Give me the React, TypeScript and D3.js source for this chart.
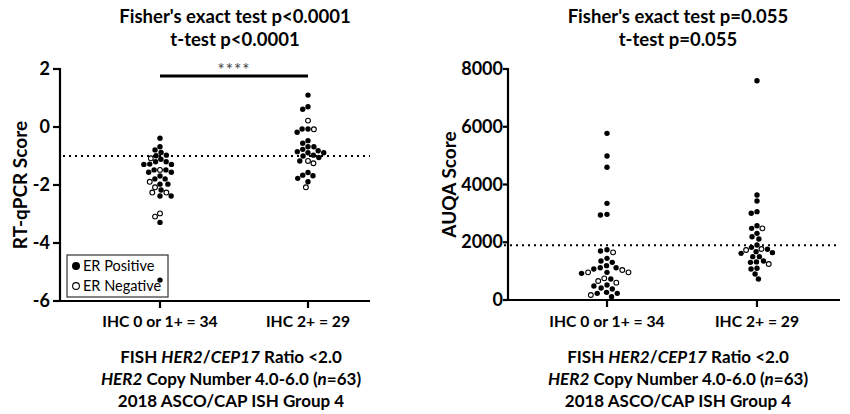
import React from "react";
import * as d3 from "d3";

// ---------- data ----------
const categories = ["IHC 0 or 1+ = 34", "IHC 2+ = 29"];

// RT-qPCR score, IHC 0 or 1+ (1 = ER positive, 0 = ER negative)
const rtLowValues = [-0.39, -0.68, -0.79, -0.88, -0.97, -0.99, -1.08, -1.2, -1.2, -1.11, -1.29, -1.28, -1.29, -1.48, -1.56, -1.56, -1.48, -1.48, -1.69, -1.97, -1.97, -1.79, -1.79, -1.89, -2.08, -2.17, -2.26, -2.26, -2.38, -2.38, -2.98, -3.09, -3.29, -5.28];
const rtLowER = [1, 1, 1, 1, 1, 1, 0, 1, 1, 1, 1, 1, 1, 0, 1, 1, 1, 1, 1, 1, 1, 1, 1, 0, 0, 1, 0, 0, 1, 1, 0, 0, 1, 1];
// RT-qPCR score, IHC 2+
const rtHighValues = [1.1, 0.7, 0.61, 0.22, -0.07, -0.07, -0.08, -0.18, -0.47, -0.56, -0.68, -0.68, -0.77, -0.85, -0.89, -0.82, -0.89, -0.97, -1.0, -1.05, -1.17, -1.17, -1.25, -1.66, -1.68, -1.57, -1.77, -1.89, -2.08];
const rtHighER = [1, 1, 1, 0, 1, 1, 0, 1, 1, 1, 1, 1, 1, 1, 1, 1, 1, 1, 1, 1, 0, 1, 0, 1, 1, 1, 1, 1, 0];

// AUQA score, IHC 0 or 1+
const auLowValues = [5772, 4987, 4595, 3348, 2967, 2944, 1697, 1740, 1651, 1443, 1350, 1304, 1119, 1189, 1119, 958, 1073, 923, 1039, 958, 958, 750, 600, 658, 727, 519, 485, 415, 381, 265, 231, 231, 173, 115];
const auLowER = [1, 1, 1, 1, 1, 1, 1, 1, 0, 1, 1, 1, 1, 1, 1, 1, 1, 1, 0, 0, 0, 0, 0, 0, 1, 1, 1, 1, 1, 1, 1, 1, 0, 1];
// AUQA score, IHC 2+
const auHighValues = [7595, 3636, 3428, 3002, 3060, 2574, 2482, 2482, 2309, 2193, 2112, 1905, 1824, 1766, 1731, 1639, 1755, 1616, 1674, 1501, 1501, 1350, 1304, 1320, 1247, 1097, 1073, 900, 727];
const auHighER = [1, 1, 1, 1, 1, 1, 1, 0, 1, 1, 1, 1, 1, 0, 0, 1, 1, 1, 1, 1, 1, 1, 1, 1, 0, 1, 1, 1, 1];

const rtTicks = [-6, -4, -2, 0, 2];
const auTicks = [0, 2000, 4000, 6000, 8000];
const rtCutoff = -1;
const auCutoff = 1900;

const leftTitles = ["Fisher's exact test p<0.0001", "t-test p<0.0001"];
const rightTitles = ["Fisher's exact test p=0.055", "t-test p=0.055"];
const legendLabels = ["ER Positive", "ER Negative"];

// ---------- helpers ----------
const FONT = "Lato, 'Open Sans', sans-serif";
const R = 2.7;

type Pt = { x: number; y: number; er: number };

function swarm(values: number[], er: number[], cx: number, y: (v: number) => number, coll: number): Pt[] {
  const items = values.map((v, i) => ({ py: y(v), er: er[i] }));
  items.sort((a, b) => a.py - b.py);
  const placed: Pt[] = [];
  for (const it of items) {
    const intervals: [number, number][] = [];
    for (const p of placed) {
      const dy = Math.abs(p.y - it.py);
      if (dy < coll) {
        const dx = Math.sqrt(coll * coll - dy * dy);
        intervals.push([p.x - cx - dx, p.x - cx + dx]);
      }
    }
    const cands = [0];
    intervals.forEach(([a, b]) => cands.push(a, b));
    cands.sort((a, b) => Math.abs(a) - Math.abs(b));
    let best = 0;
    for (const c of cands) {
      if (intervals.every(([a, b]) => c <= a + 1e-6 || c >= b - 1e-6)) {
        best = c;
        break;
      }
    }
    placed.push({ x: cx + best, y: it.py, er: it.er });
  }
  return placed;
}

function Dots({ pts }: { pts: Pt[] }) {
  return (
    <g>
      {pts.map((p, i) =>
        p.er ? (
          <circle key={i} cx={p.x} cy={p.y} r={R} fill="#000" />
        ) : (
          <circle key={i} cx={p.x} cy={p.y} r={R - 0.3} fill="#fff" stroke="#000" strokeWidth={1.1} />
        )
      )}
    </g>
  );
}

function BottomText({ cx }: { cx: number }) {
  const st = { fontFamily: FONT, fontSize: 17, fontWeight: 700 } as const;
  return (
    <g textAnchor="middle" style={st}>
      <text x={cx} y={363}>
        FISH <tspan fontStyle="italic">HER2</tspan>/<tspan fontStyle="italic">CEP17</tspan> Ratio &lt;2.0
      </text>
      <text x={cx} y={385}>
        <tspan fontStyle="italic">HER2</tspan> Copy Number 4.0-6.0 (<tspan fontStyle="italic">n</tspan>=63)
      </text>
      <text x={cx} y={407}>2018 ASCO/CAP ISH Group 4</text>
    </g>
  );
}

export default function App() {
  // left panel
  const yL = d3.scaleLinear().domain([-6, 2]).range([301, 69]);
  const xL = d3.scalePoint<string>().domain(categories).range([160, 308]);
  // right panel
  const yR = d3.scaleLinear().domain([0, 8000]).range([300, 69]);
  const xR = d3.scalePoint<string>().domain(categories).range([607, 757]);

  const lLow = swarm(rtLowValues, rtLowER, xL(categories[0])!, yL, 5.9);
  const lHigh = swarm(rtHighValues, rtHighER, xL(categories[1])!, yL, 5.9);
  const rLow = swarm(auLowValues, auLowER, xR(categories[0])!, yR, 6.6);
  const rHigh = swarm(auHighValues, auHighER, xR(categories[1])!, yR, 6.0);

  const tickFont = { fontFamily: FONT, fontSize: 18, fontWeight: 700 } as const;
  const axisLabelFont = { fontFamily: FONT, fontSize: 19, fontWeight: 700 } as const;
  const catFont = { fontFamily: FONT, fontSize: 15.7, fontWeight: 700 } as const;
  const titleFont = { fontFamily: FONT, fontSize: 18.5, fontWeight: 700 } as const;

  const lAxisX = 60, lEnd = 370, lBase = 301;
  const rAxisX = 508, rEnd = 840, rBase = 300;

  return (
    <svg width={850} height={414} style={{ position: "absolute", left: 0, top: 0, background: "#fff" }}>
      <rect width={850} height={414} fill="#fff" />
      {/* ---------- LEFT ---------- */}
      <g textAnchor="middle" style={titleFont}>
        <text x={235} y={23}>{leftTitles[0]}</text>
        <text x={235} y={46}>{leftTitles[1]}</text>
      </g>
      <line x1={lAxisX} x2={lAxisX} y1={yL(2) - 1} y2={lBase + 1} stroke="#000" strokeWidth={2.2} />
      <line x1={lAxisX - 7} x2={lEnd} y1={lBase} y2={lBase} stroke="#000" strokeWidth={2.2} />
      {rtTicks.map((t) => (
        <g key={t}>
          <line x1={lAxisX - 7} x2={lAxisX} y1={yL(t)} y2={yL(t)} stroke="#000" strokeWidth={2.2} />
          <text x={lAxisX - 10} y={yL(t) + 6} textAnchor="end" style={tickFont}>{t}</text>
        </g>
      ))}
      {categories.map((c) => (
        <g key={c}>
          <line x1={xL(c)} x2={xL(c)} y1={lBase} y2={lBase + 7} stroke="#000" strokeWidth={2.2} />
          <text x={xL(c)} y={lBase + 26} textAnchor="middle" style={catFont}>{c}</text>
        </g>
      ))}
      <text transform={`translate(27,${yL(-2)}) rotate(-90)`} textAnchor="middle" style={axisLabelFont}>RT-qPCR Score</text>
      <line x1={lAxisX + 3} x2={lEnd} y1={yL(rtCutoff)} y2={yL(rtCutoff)} stroke="#000" strokeWidth={2} strokeDasharray="2 4" />
      {/* significance */}
      <line x1={xL(categories[0])} x2={xL(categories[1])} y1={76} y2={76} stroke="#000" strokeWidth={3.2} />
      <text x={(xL(categories[0])! + xL(categories[1])!) / 2} y={76} textAnchor="middle" style={{ fontFamily: FONT, fontSize: 17, fill: "#444" }} letterSpacing={1}>****</text>
      <Dots pts={lLow} />
      <Dots pts={lHigh} />
      {/* legend */}
      <rect x={67} y={255} width={101} height={42} fill="none" stroke="#333" strokeWidth={1.2} />
      <circle cx={76} cy={266} r={4} fill="#000" />
      <circle cx={76} cy={286} r={3.4} fill="#fff" stroke="#000" strokeWidth={1.1} />
      <text x={83} y={271} style={{ fontFamily: FONT, fontSize: 14.5 }}>{legendLabels[0]}</text>
      <text x={83} y={291} style={{ fontFamily: FONT, fontSize: 14.5 }}>{legendLabels[1]}</text>
      <BottomText cx={231} />

      {/* ---------- RIGHT ---------- */}
      <g textAnchor="middle" style={titleFont}>
        <text x={678} y={23}>{rightTitles[0]}</text>
        <text x={678} y={46}>{rightTitles[1]}</text>
      </g>
      <line x1={rAxisX} x2={rAxisX} y1={yR(8000) - 1} y2={rBase + 1} stroke="#000" strokeWidth={2.2} />
      <line x1={rAxisX - 5} x2={rEnd} y1={rBase} y2={rBase} stroke="#000" strokeWidth={2.2} />
      {auTicks.map((t) => (
        <g key={t}>
          <line x1={rAxisX - 5} x2={rAxisX} y1={yR(t)} y2={yR(t)} stroke="#000" strokeWidth={2.2} />
          <text x={rAxisX - 5} y={yR(t) + 6} textAnchor="end" style={tickFont}>{t}</text>
        </g>
      ))}
      {categories.map((c) => (
        <g key={c}>
          <line x1={xR(c)} x2={xR(c)} y1={rBase} y2={rBase + 7} stroke="#000" strokeWidth={2.2} />
          <text x={xR(c)} y={rBase + 27} textAnchor="middle" style={catFont}>{c}</text>
        </g>
      ))}
      <text transform={`translate(456,${yR(4000)}) rotate(-90)`} textAnchor="middle" style={axisLabelFont}>AUQA Score</text>
      <line x1={rAxisX - 4} x2={rEnd} y1={yR(auCutoff)} y2={yR(auCutoff)} stroke="#000" strokeWidth={2} strokeDasharray="2 4" />
      <Dots pts={rLow} />
      <Dots pts={rHigh} />
      <BottomText cx={678} />
    </svg>
  );
}
